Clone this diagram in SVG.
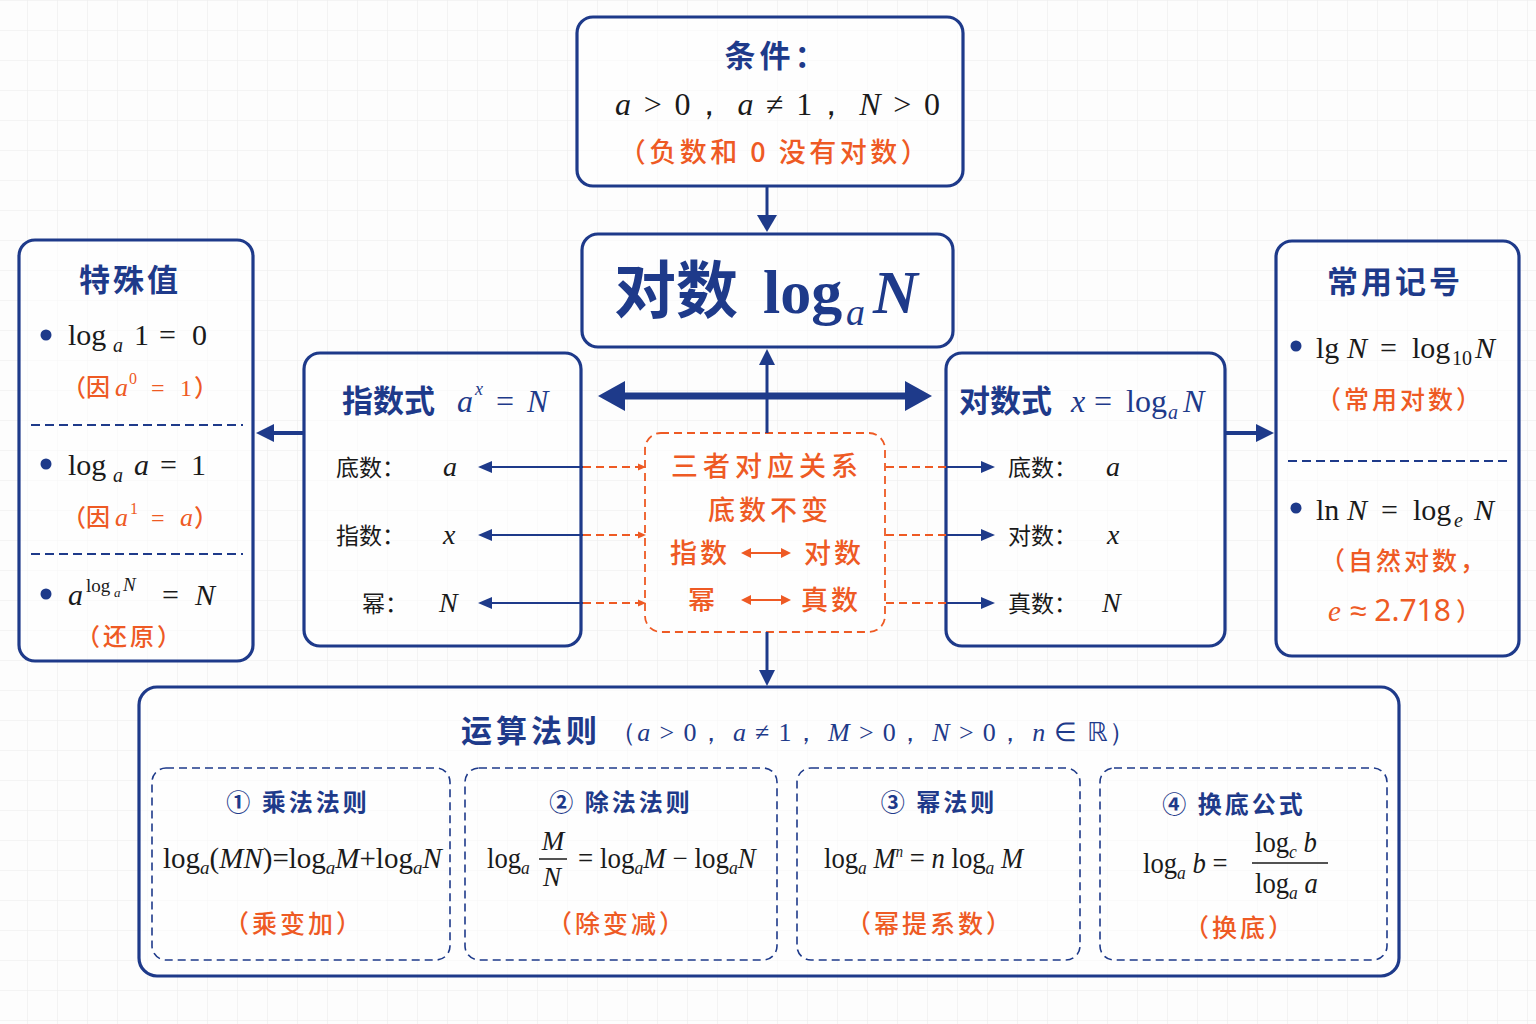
<svg xmlns="http://www.w3.org/2000/svg" width="1536" height="1024" viewBox="0 0 1536 1024">
<defs>
<pattern id="grid" x="27" y="30" width="30" height="30" patternUnits="userSpaceOnUse">
<path d="M0 0H30M0 0V30" fill="none" stroke="#ececec" stroke-width="1.2"/>
</pattern>
<style>
.box{fill:#ffffff;fill-opacity:0.55;stroke:#1e3a8a;stroke-width:3.2}
.sub{fill:none;stroke:#1e3a8a;stroke-width:1.6;stroke-dasharray:8 5}
.obox{fill:#ffffff;fill-opacity:0.6;stroke:#ee5a24;stroke-width:1.8;stroke-dasharray:8 5}
.sep{stroke:#1e3a8a;stroke-width:2;stroke-dasharray:9 5}
.cjkb{font-family:"Noto Sans CJK SC",sans-serif;font-weight:700;fill:#1e3a8a}
.cjk{font-family:"Noto Sans CJK SC",sans-serif;font-weight:400;fill:#1a1a1a}
.or{font-family:"Noto Sans CJK SC",sans-serif;font-weight:500;fill:#ee5a24}
.m{font-family:"Liberation Serif",serif;fill:#1a1a1a}
.mo{font-family:"Liberation Serif",serif;fill:#ee5a24}
.mn{font-family:"Liberation Serif",serif;fill:#1e3a8a}
.i{font-style:italic}
.nv{stroke:#1e3a8a;fill:none}
.ol{stroke:#ee5a24;stroke-width:1.8;stroke-dasharray:8 5;fill:none}
</style>
</defs>
<rect width="1536" height="1024" fill="#fdfdfd"/>
<rect width="1536" height="1024" fill="url(#grid)"/>

<g id="condition">
<rect class="box" x="577" y="17" width="386" height="169" rx="16"/>
<text class="cjkb" x="777" y="67" font-size="31" text-anchor="middle" letter-spacing="4">条件：</text>
<text class="m" x="615" y="115" font-size="32" textLength="325" lengthAdjust="spacing"><tspan class="i">a</tspan> &gt; 0， <tspan class="i">a</tspan> ≠ 1， <tspan class="i">N</tspan> &gt; 0</text>
<text class="or" x="775" y="162" font-size="27" text-anchor="middle" letter-spacing="3.5">（负数和 0 没有对数）</text>
</g>

<g id="main">
<rect class="box" x="582" y="234" width="371" height="113" rx="16"/>
<text class="cjkb" x="614" y="313" font-size="62">对数</text>
<text class="mn" x="763" y="313" font-size="62" font-weight="bold">log</text>
<text class="mn i" x="846" y="325" font-size="38">a</text>
<text class="mn i" x="873" y="313" font-size="62" font-weight="bold">N</text>
</g>

<g id="exp">
<rect class="box" x="304" y="353" width="277" height="293" rx="16"/>
<text class="cjkb" x="342" y="412" font-size="31">指数式</text>
<text class="mn i" x="457" y="412" font-size="32">a</text>
<text class="mn i" x="475" y="395" font-size="18">x</text>
<text class="mn" x="496" y="412" font-size="32">=</text>
<text class="mn i" x="527" y="412" font-size="32">N</text>
<text class="cjk" x="336" y="476" font-size="23">底数：</text>
<text class="m i" x="443" y="476" font-size="28">a</text>
<text class="cjk" x="336" y="544" font-size="23">指数：</text>
<text class="m i" x="443" y="544" font-size="28">x</text>
<text class="cjk" x="362" y="612" font-size="23">幂：</text>
<text class="m i" x="439" y="612" font-size="28">N</text>
</g>

<g id="center">
<rect class="obox" x="645" y="433" width="240" height="199" rx="16"/>
<text class="or" x="767" y="476" font-size="27" text-anchor="middle" letter-spacing="5">三者对应关系</text>
<text class="or" x="770" y="520" font-size="27" text-anchor="middle" letter-spacing="4">底数不变</text>
<text class="or" x="670" y="563" font-size="27" letter-spacing="3">指数</text>
<text class="or" x="804" y="563" font-size="27" letter-spacing="3">对数</text>
<text class="or" x="688" y="610" font-size="27">幂</text>
<text class="or" x="801" y="610" font-size="27" letter-spacing="3">真数</text>
<g stroke="#ee5a24" stroke-width="2" fill="#ee5a24">
<line x1="748" y1="553" x2="784" y2="553"/>
<polygon points="741,553 751,548 751,558" stroke="none"/>
<polygon points="791,553 781,548 781,558" stroke="none"/>
<line x1="748" y1="600" x2="784" y2="600"/>
<polygon points="741,600 751,595 751,605" stroke="none"/>
<polygon points="791,600 781,595 781,605" stroke="none"/>
</g>
</g>

<g id="log">
<rect class="box" x="946" y="353" width="279" height="293" rx="16"/>
<text class="cjkb" x="959" y="412" font-size="31">对数式</text>
<text class="mn i" x="1071" y="412" font-size="32">x</text>
<text class="mn" x="1094" y="412" font-size="32">=</text>
<text class="mn" x="1126" y="412" font-size="32">log</text>
<text class="mn i" x="1168" y="419" font-size="20">a</text>
<text class="mn i" x="1183" y="412" font-size="32">N</text>
<text class="cjk" x="1008" y="476" font-size="23">底数：</text>
<text class="m i" x="1106" y="476" font-size="28">a</text>
<text class="cjk" x="1008" y="544" font-size="23">对数：</text>
<text class="m i" x="1107" y="544" font-size="28">x</text>
<text class="cjk" x="1008" y="612" font-size="23">真数：</text>
<text class="m i" x="1102" y="612" font-size="28">N</text>
</g>

<g id="special">
<rect class="box" x="19" y="240" width="234" height="421" rx="16"/>
<text class="cjkb" x="130" y="291" font-size="31" text-anchor="middle" letter-spacing="3">特殊值</text>
<circle cx="46" cy="335" r="5.5" fill="#1e3a8a"/>
<text class="m" x="68" y="345" font-size="30">log</text>
<text class="m i" x="113" y="352" font-size="20">a</text>
<text class="m" x="134" y="345" font-size="30">1</text>
<text class="m" x="159" y="345" font-size="30">=</text>
<text class="m" x="192" y="345" font-size="30">0</text>
<text class="or" x="62" y="396" font-size="24">（因</text>
<text class="mo i" x="115" y="396" font-size="26">a</text>
<text class="mo" x="129" y="384" font-size="16">0</text>
<text class="mo" x="151" y="396" font-size="24">=</text>
<text class="mo" x="180" y="396" font-size="24">1</text>
<text class="or" x="194" y="396" font-size="24">）</text>
<line class="sep" x1="31" y1="425" x2="243" y2="425"/>
<circle cx="46" cy="464" r="5.5" fill="#1e3a8a"/>
<text class="m" x="68" y="475" font-size="30">log</text>
<text class="m i" x="113" y="482" font-size="20">a</text>
<text class="m i" x="134" y="475" font-size="30">a</text>
<text class="m" x="160" y="475" font-size="30">=</text>
<text class="m" x="191" y="475" font-size="30">1</text>
<text class="or" x="62" y="526" font-size="24">（因</text>
<text class="mo i" x="115" y="526" font-size="26">a</text>
<text class="mo" x="130" y="514" font-size="16">1</text>
<text class="mo" x="151" y="526" font-size="24">=</text>
<text class="mo i" x="180" y="526" font-size="26">a</text>
<text class="or" x="194" y="526" font-size="24">）</text>
<line class="sep" x1="31" y1="554" x2="243" y2="554"/>
<circle cx="46" cy="594" r="5.5" fill="#1e3a8a"/>
<text class="m i" x="68" y="605" font-size="30">a</text>
<text class="m" x="86" y="592" font-size="19">log</text>
<text class="m i" x="114" y="597" font-size="13">a</text>
<text class="m i" x="123" y="591" font-size="19">N</text>
<text class="m" x="162" y="605" font-size="30">=</text>
<text class="m i" x="195" y="605" font-size="30">N</text>
<text class="or" x="130" y="645" font-size="24" text-anchor="middle" letter-spacing="3">（还原）</text>
</g>

<g id="notation">
<rect class="box" x="1276" y="241" width="243" height="415" rx="16"/>
<text class="cjkb" x="1395" y="293" font-size="31" text-anchor="middle" letter-spacing="3">常用记号</text>
<circle cx="1296" cy="346" r="5.5" fill="#1e3a8a"/>
<text class="m" x="1316" y="358" font-size="30">lg</text>
<text class="m i" x="1347" y="358" font-size="30">N</text>
<text class="m" x="1380" y="358" font-size="30">=</text>
<text class="m" x="1412" y="358" font-size="30">log</text>
<text class="m" x="1452" y="365" font-size="20">10</text>
<text class="m i" x="1475" y="358" font-size="30">N</text>
<text class="or" x="1400" y="409" font-size="25" text-anchor="middle" letter-spacing="3">（常用对数）</text>
<line class="sep" x1="1288" y1="461" x2="1507" y2="461"/>
<circle cx="1296" cy="508" r="5.5" fill="#1e3a8a"/>
<text class="m" x="1316" y="520" font-size="30">ln</text>
<text class="m i" x="1347" y="520" font-size="30">N</text>
<text class="m" x="1381" y="520" font-size="30">=</text>
<text class="m" x="1413" y="520" font-size="30">log</text>
<text class="m i" x="1454" y="527" font-size="20">e</text>
<text class="m i" x="1474" y="520" font-size="30">N</text>
<text class="or" x="1320" y="570" font-size="25" letter-spacing="3">（自然对数，</text>
<text class="mo i" x="1328" y="621" font-size="29">e</text>
<text x="1350" y="621" font-size="30" font-family="Noto Sans, sans-serif" fill="#ee5a24">≈ 2.718</text>
<text class="or" x="1456" y="621" font-size="25">）</text>
</g>

<g id="rules">
<rect class="box" x="139" y="687" width="1260" height="289" rx="18"/>
<text class="cjkb" x="461" y="742" font-size="31" letter-spacing="4">运算法则</text>
<text class="mn" x="610" y="741" font-size="26" textLength="525" lengthAdjust="spacing">（<tspan class="i">a</tspan> &gt; 0， <tspan class="i">a</tspan> ≠ 1， <tspan class="i">M</tspan> &gt; 0， <tspan class="i">N</tspan> &gt; 0， <tspan class="i">n</tspan> ∈ ℝ）</text>

<g id="rule1">
<rect class="sub" x="152" y="768" width="298" height="192" rx="14"/>
<text class="cjkb" x="298" y="811" font-size="24" text-anchor="middle" letter-spacing="3">① 乘法法则</text>
<text class="m" transform="translate(163,868)" font-size="29">log<tspan class="i" font-size="19" dy="6">a</tspan><tspan dy="-6">(</tspan><tspan class="i">MN</tspan>)=log<tspan class="i" font-size="19" dy="6">a</tspan><tspan class="i" dy="-6">M</tspan>+log<tspan class="i" font-size="19" dy="6">a</tspan><tspan class="i" dy="-6">N</tspan></text>
<text class="or" x="294" y="933" font-size="25" text-anchor="middle" letter-spacing="3">（乘变加）</text>
</g>

<g id="rule2">
<rect class="sub" x="465" y="768" width="312" height="192" rx="14"/>
<text class="cjkb" x="621" y="811" font-size="24" text-anchor="middle" letter-spacing="3">② 除法法则</text>
<text class="m" transform="translate(487,868) scale(0.92,1)" font-size="29">log<tspan class="i" font-size="19" dy="6">a</tspan></text>
<text class="m i" x="553" y="850" font-size="27" text-anchor="middle">M</text>
<line x1="539" y1="859" x2="567" y2="859" stroke="#1a1a1a" stroke-width="1.5"/>
<text class="m i" x="552" y="886" font-size="27" text-anchor="middle">N</text>
<text class="m" transform="translate(578,868) scale(0.93,1)" font-size="29">= log<tspan class="i" font-size="19" dy="6">a</tspan><tspan class="i" dy="-6">M</tspan> − log<tspan class="i" font-size="19" dy="6">a</tspan><tspan class="i" dy="-6">N</tspan></text>
<text class="or" x="617" y="933" font-size="25" text-anchor="middle" letter-spacing="3">（除变减）</text>
</g>

<g id="rule3">
<rect class="sub" x="797" y="768" width="283" height="192" rx="14"/>
<text class="cjkb" x="939" y="811" font-size="24" text-anchor="middle" letter-spacing="3">③ 幂法则</text>
<text class="m" transform="translate(824,868) scale(0.92,1)" font-size="29">log<tspan class="i" font-size="19" dy="6">a</tspan><tspan class="i" dy="-6"> M</tspan><tspan class="i" font-size="16" dy="-11">n</tspan><tspan dy="11"> = </tspan><tspan class="i">n</tspan> log<tspan class="i" font-size="19" dy="6">a</tspan><tspan class="i" dy="-6"> M</tspan></text>
<text class="or" x="930" y="933" font-size="25" text-anchor="middle" letter-spacing="3">（幂提系数）</text>
</g>

<g id="rule4">
<rect class="sub" x="1100" y="768" width="287" height="192" rx="14"/>
<text class="cjkb" x="1234" y="813" font-size="24" text-anchor="middle" letter-spacing="3">④ 换底公式</text>
<text class="m" transform="translate(1143,873) scale(0.92,1)" font-size="29">log<tspan class="i" font-size="19" dy="6">a</tspan><tspan class="i" dy="-6"> b</tspan> =</text>
<line x1="1252" y1="863" x2="1328" y2="863" stroke="#1a1a1a" stroke-width="1.5"/>
<text class="m" transform="translate(1255,852) scale(0.92,1)" font-size="29">log<tspan class="i" font-size="19" dy="6">c</tspan><tspan class="i" dy="-6"> b</tspan></text>
<text class="m" transform="translate(1255,893) scale(0.92,1)" font-size="29">log<tspan class="i" font-size="19" dy="6">a</tspan><tspan class="i" dy="-6"> a</tspan></text>
<text class="or" x="1240" y="937" font-size="25" text-anchor="middle" letter-spacing="3">（换底）</text>
</g>
</g>

<g id="connectors">
<line class="nv" x1="767" y1="186" x2="767" y2="218" stroke-width="3"/>
<polygon points="757,215 777,215 767,232" fill="#1e3a8a"/>
<line class="nv" x1="767" y1="363" x2="767" y2="433" stroke-width="3"/>
<line class="nv" x1="767" y1="632" x2="767" y2="672" stroke-width="3"/>
<polygon points="759,365 775,365 767,349" fill="#1e3a8a"/>
<polygon points="759,670 775,670 767,686" fill="#1e3a8a"/>
<line class="nv" x1="620" y1="396" x2="910" y2="396" stroke-width="7"/>
<polygon points="598,396 625,381 625,411" fill="#1e3a8a"/>
<polygon points="932,396 905,381 905,411" fill="#1e3a8a"/>
<line class="nv" x1="304" y1="433" x2="272" y2="433" stroke-width="4"/>
<polygon points="256,433 274,424 274,442" fill="#1e3a8a"/>
<line class="nv" x1="1225" y1="433" x2="1258" y2="433" stroke-width="4"/>
<polygon points="1274,433 1256,424 1256,442" fill="#1e3a8a"/>
<line class="nv" x1="583" y1="467" x2="490" y2="467" stroke-width="2"/>
<polygon points="478,467 492,461 492,473" fill="#1e3a8a"/>
<line class="nv" x1="583" y1="535" x2="490" y2="535" stroke-width="2"/>
<polygon points="478,535 492,529 492,541" fill="#1e3a8a"/>
<line class="nv" x1="583" y1="603" x2="490" y2="603" stroke-width="2"/>
<polygon points="478,603 492,597 492,609" fill="#1e3a8a"/>
<line class="ol" x1="583" y1="467" x2="640" y2="467"/>
<polygon points="646,467 638,463.5 638,470.5" fill="#ee5a24"/>
<line class="ol" x1="583" y1="535" x2="640" y2="535"/>
<polygon points="646,535 638,531.5 638,538.5" fill="#ee5a24"/>
<line class="ol" x1="583" y1="603" x2="640" y2="603"/>
<polygon points="646,603 638,599.5 638,606.5" fill="#ee5a24"/>
<line class="ol" x1="886" y1="467" x2="946" y2="467"/>
<line class="ol" x1="886" y1="535" x2="946" y2="535"/>
<line class="ol" x1="886" y1="603" x2="946" y2="603"/>
<line class="nv" x1="946" y1="467" x2="982" y2="467" stroke-width="2"/>
<polygon points="995,467 981,461 981,473" fill="#1e3a8a"/>
<line class="nv" x1="946" y1="535" x2="982" y2="535" stroke-width="2"/>
<polygon points="995,535 981,529 981,541" fill="#1e3a8a"/>
<line class="nv" x1="946" y1="603" x2="982" y2="603" stroke-width="2"/>
<polygon points="995,603 981,597 981,609" fill="#1e3a8a"/>
</g>
</svg>
